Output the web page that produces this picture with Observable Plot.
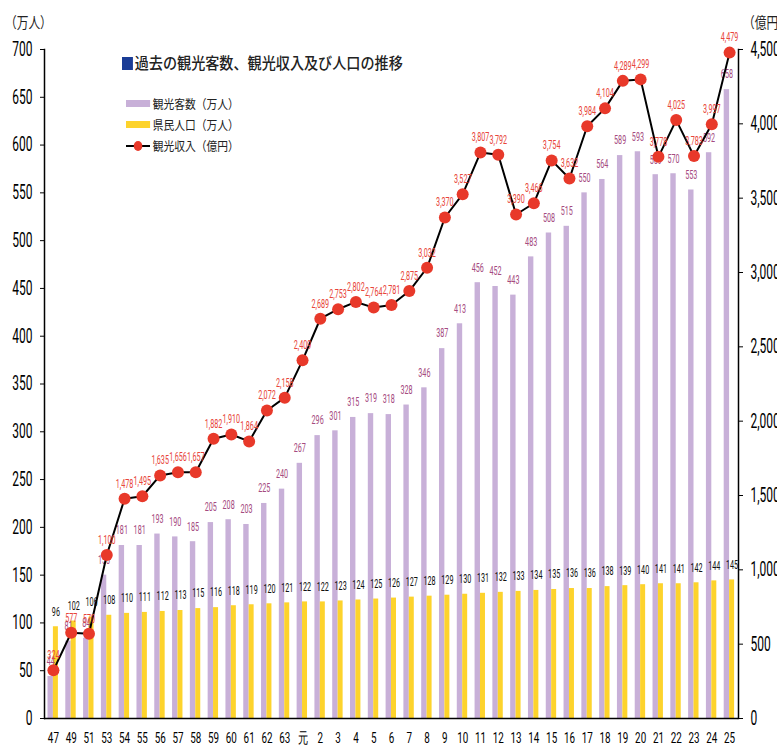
<!DOCTYPE html>
<html><head><meta charset="utf-8">
<script src="https://cdn.jsdelivr.net/npm/d3@7"></script>
<script src="https://cdn.jsdelivr.net/npm/@observablehq/plot@0.6"></script>
<style>
body{margin:0;background:#fff;}
#wrap{position:relative;width:777px;height:749px;overflow:hidden;}
.jp{font-family:"Noto Sans CJK JP",sans-serif;color:#222;}
.ov{position:absolute;white-space:nowrap;transform-origin:0 50%;}
</style></head><body><div id="wrap"></div>
<script>
const years = ["47","49","51","53","54","55","56","57","58","59","60","61","62","63","元","2","3","4","5","6","7","8","9","10","11","12","13","14","15","16","17","18","19","20","21","22","23","24","25"];
const visitors = [44,81,84,150,181,181,193,190,185,205,208,203,225,240,267,296,301,315,319,318,328,346,387,413,456,452,443,483,508,515,550,564,589,593,569,570,553,592,658];
const population = [96,102,106,108,110,111,112,113,115,116,118,119,120,121,122,122,123,124,125,126,127,128,129,130,131,132,133,134,135,136,136,138,139,140,141,141,142,144,145];
const revenue = [324,577,570,1100,1478,1495,1635,1656,1657,1882,1910,1864,2072,2158,2409,2689,2753,2802,2764,2781,2875,3032,3370,3527,3807,3792,3390,3466,3754,3632,3984,4104,4289,4299,3778,4025,3783,3997,4479];
const leftTicks = d3.range(0, 701, 50);
const rightTicks = d3.range(0, 4501, 500);
const leftMax = 700, rightMax = 4500;

const data = years.map((y, i) => ({year: y, visitors: visitors[i], population: population[i], revenue: revenue[i], revScaled: revenue[i] * leftMax / rightMax}));

const W = 777, H = 749, mL = 44, mR = 39, mT = 49, mB = 31;
const step = (W - mL - mR) / years.length;
const half = step / 2;
const purpleW = 5.4, yellowW = 5;
const numFont = "Roboto, 'Liberation Sans', sans-serif";

const chart = Plot.plot({
  width: W, height: H,
  marginLeft: mL, marginRight: mR, marginTop: mT, marginBottom: mB,
  style: {fontFamily: numFont, background: "white", overflow: "visible"},
  x: {type: "band", domain: years, padding: 0, label: null},
  y: {domain: [0, leftMax], label: null},
  marks: [
    Plot.barY(data, {x: "year", y: "visitors", fill: "#c8b0d8", insetLeft: half - purpleW, insetRight: half}),
    Plot.barY(data, {x: "year", y: "population", fill: "#fdd32c", insetLeft: half, insetRight: half - yellowW}),
    Plot.text(data, {x: "year", y: "visitors", text: d => String(d.visitors), dx: -2.7, dy: -15, fill: "#a54a80", fontSize: 12}),
    Plot.text(data, {x: "year", y: "population", text: d => String(d.population), dx: 2.5, dy: -15, fill: "#111", fontSize: 12}),
    Plot.line(data, {x: "year", y: "revScaled", stroke: "#000", strokeWidth: 2}),
    Plot.dot(data, {x: "year", y: "revScaled", r: 6, fill: "#e8392a", stroke: "none"}),
    Plot.text(data, {x: "year", y: "revScaled", text: d => d3.format(",")(d.revenue), dy: -15, fill: "#e8453a", fontSize: 12}),
    Plot.axisY({anchor: "left", ticks: leftTicks, tickSize: 4, tickPadding: 8, fontSize: 20, label: null}),
    Plot.axisY({anchor: "right", ticks: rightTicks.map(v => v * leftMax / rightMax), tickFormat: v => d3.format(",")(Math.round(v * rightMax / leftMax)), tickSize: 4, tickPadding: 8, fontSize: 20, label: null}),
    Plot.axisX({tickSize: 0, tickPadding: 14, fontSize: 14.5, label: null}),
    Plot.ruleY([0], {stroke: "#000", strokeWidth: 1.5}),
    Plot.frame({anchor: "left", stroke: "#000", strokeWidth: 1.5}),
    Plot.frame({anchor: "right", stroke: "#000", strokeWidth: 1.5})
  ]
});

const wrap = document.getElementById("wrap");
wrap.appendChild(chart);

// condense numeric text horizontally about its anchor (reference uses a condensed face)
function condense(sel, k) {
  chart.querySelectorAll(sel).forEach(t => {
    const tr = t.getAttribute("transform") || "";
    const x = +t.getAttribute("x") || 0, y = +t.getAttribute("y") || 0;
    t.setAttribute("transform", `${tr} translate(${x},${y}) scale(${k},1) translate(${-x},${-y})`);
  });
}
condense('g[aria-label="text"] text', 0.6);
condense('g[aria-label="y-axis tick label"] text', 0.6);
condense('g[aria-label="x-axis tick label"] text', 0.68);

function ov(html, left, top, cls, style) {
  const d = document.createElement("div");
  d.className = "ov " + cls;
  d.style.left = left + "px"; d.style.top = top + "px";
  if (style) Object.assign(d.style, style);
  d.innerHTML = html;
  wrap.appendChild(d);
}
ov("（万人）", 5, 11, "jp", {fontSize: "15px", transform: "scaleX(0.78)"});
ov("（億円）", 743, 11, "jp", {fontSize: "15px", transform: "scaleX(0.78)"});
ov('<span style="display:inline-block;width:12px;height:13px;background:#1a3c96;vertical-align:-1px;margin-right:2px"></span>過去の観光客数、観光収入及び人口の推移', 122, 51, "jp", {fontSize: "15.5px", fontWeight: "500", transform: "scaleX(0.91)"});
ov('<span style="display:inline-block;width:28px;height:7px;background:#c8b0d8;vertical-align:2px;margin-right:3px"></span>観光客数（万人）', 126, 94, "jp", {fontSize: "12.5px", transform: "scaleX(0.86)"});
ov('<span style="display:inline-block;width:28px;height:7px;background:#fdd32c;vertical-align:2px;margin-right:3px"></span>県民人口（万人）', 126, 115, "jp", {fontSize: "12.5px", transform: "scaleX(0.86)"});
ov('<svg width="28" height="12" style="vertical-align:-1px;margin-right:3px"><line x1="0" y1="6" x2="28" y2="6" stroke="#000" stroke-width="2"/><circle cx="14" cy="6" r="5" fill="#e8392a"/></svg>観光収入（億円）', 126, 136, "jp", {fontSize: "12.5px", transform: "scaleX(0.86)"});
</script></body></html>
